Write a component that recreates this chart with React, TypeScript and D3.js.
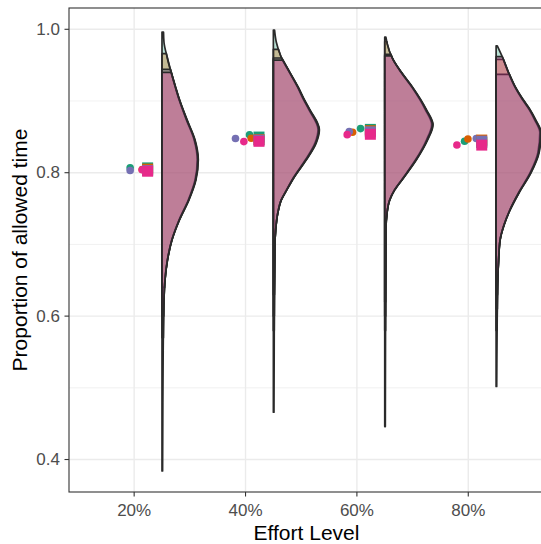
import React from "react";
import * as d3 from "d3";

// ---------- data ----------
const efforts = ["20%", "40%", "60%", "80%"];
const groupColors = ["#1B9E77", "#D95F02", "#7570B3", "#E7298A"];

// half-violin density profiles: [value, density]
const profile20: [number, number][] = [
  [0.997, 1.5], [0.982, 2], [0.961, 5.3], [0.94, 9.3], [0.919, 13.7], [0.902, 17.5],
  [0.874, 25], [0.846, 33], [0.818, 36.3], [0.79, 34], [0.762, 27], [0.734, 17.5],
  [0.706, 10], [0.678, 5.5], [0.65, 3], [0.622, 2], [0.552, 1.2], [0.455, 0.8], [0.384, 0.6],
];
const profile40: [number, number][] = [
  [0.999, 1.2], [0.982, 3], [0.961, 8], [0.94, 16.5], [0.919, 25], [0.902, 31], [0.888, 36.5],
  [0.86, 46], [0.842, 43], [0.818, 33], [0.794, 21], [0.776, 13.5], [0.762, 8],
  [0.744, 4.5], [0.72, 2.3], [0.697, 1.5], [0.622, 1], [0.539, 0.8], [0.466, 0.6],
];
const profile60: [number, number][] = [
  [0.989, 1.2], [0.979, 2.7], [0.961, 7.3], [0.94, 16.7], [0.919, 28], [0.888, 41.7],
  [0.867, 48.3], [0.846, 43], [0.818, 31.7], [0.794, 19.5], [0.776, 10], [0.762, 5],
  [0.744, 2.3], [0.72, 1.2], [0.622, 0.9], [0.446, 0.6],
];
const profile80: [number, number][] = [
  [0.977, 1.2], [0.961, 6.5], [0.94, 12.5], [0.919, 19.5], [0.902, 27], [0.888, 34],
  [0.874, 39.5], [0.856, 45], [0.828, 43], [0.8, 35], [0.772, 23], [0.748, 14], [0.727, 8],
  [0.706, 4], [0.678, 2.5], [0.643, 1.5], [0.58, 1], [0.502, 0.6],
];
const profiles = [profile20, profile40, profile60, profile80];

// per effort, per group (teal, orange, purple, pink)
const groupMax = [
  [0.996, 0.966, 0.944, 0.94],
  [0.999, 0.972, 0.96, 0.957],
  [0.983, 0.989, 0.965, 0.963],
  [0.977, 0.958, 0.937, 0.962],
];
const groupMin = [
  [0.6, 0.64, 0.57, 0.384],
  [0.466, 0.6, 0.63, 0.58],
  [0.58, 0.446, 0.62, 0.6],
  [0.61, 0.58, 0.502, 0.63],
];
const groupWidth = [0.99, 0.97, 1.0, 0.985];

const circleValues = [
  [0.807, 0.8045, 0.803, 0.8042],
  [0.853, 0.848, 0.8476, 0.8434],
  [0.8615, 0.8564, 0.8573, 0.8531],
  [0.8438, 0.8471, 0.8476, 0.8387],
];
const circleJitter = [
  [-0.036, 0.072, -0.036, 0.072],
  [0.036, 0.051, -0.09, -0.015],
  [0.033, -0.039, -0.069, -0.087],
  [-0.033, -0.003, 0.072, -0.102],
];
const squareValues = [
  [0.8067, 0.8049, 0.803, 0.8021],
  [0.8497, 0.8462, 0.8455, 0.8438],
  [0.8604, 0.8585, 0.857, 0.8536],
  [0.842, 0.8455, 0.844, 0.8385],
];

const yMajor = [0.4, 0.6, 0.8, 1.0];
const yMinor = [0.5, 0.7, 0.9];

// ---------- layout ----------
const W = 541, H = 544;
const PL = 69, PR = 544, PT = 8, PB = 492;
const FONT = "'Liberation Sans', Arial, Helvetica, sans-serif";

const x = d3.scaleLinear().domain([0.415, 4.68]).range([PL, PR]);
const y = d3.scaleLinear().domain([0.3547, 1.0297]).range([PB, PT]);
const step = x(1) - x(0);
const widthScale = d3.scaleLinear().domain([0, 100]).range([0, 0.8983 * step]);

function interp(profile: [number, number][], v: number) {
  for (let i = 0; i < profile.length - 1; i++) {
    const [v0, w0] = profile[i];
    const [v1, w1] = profile[i + 1];
    if (v <= v0 && v >= v1) {
      const t = (v0 - v) / (v0 - v1);
      return w0 + t * (w1 - w0);
    }
  }
  return profile[profile.length - 1][1];
}

function violinPath(ei: number, gi: number) {
  const prof = profiles[ei];
  const mx = groupMax[ei][gi], mn = groupMin[ei][gi];
  const pts: [number, number][] = [[mx, interp(prof, mx)]];
  prof.forEach((p) => { if (p[0] < mx && p[0] > mn) pts.push(p); });
  pts.push([mn, interp(prof, mn)]);
  const x0 = x(ei + 1 + 0.25);
  const area = d3.area<[number, number]>()
    .y((d) => y(d[0]))
    .x0(x0)
    .x1((d) => x0 + widthScale(d[1]) * groupWidth[gi])
    .curve(d3.curveMonotoneY);
  return area(pts) || "";
}

export default function App() {
  return (
    <svg width={W} height={H} style={{ position: "fixed", left: 0, top: 0, background: "#fff" }}
      fontFamily={FONT}>
      <defs>
        <clipPath id="panel"><rect x={PL} y={PT} width={PR - PL} height={PB - PT} /></clipPath>
      </defs>
      <rect x={0} y={0} width={W} height={H} fill="#fff" />
      <g clipPath="url(#panel)">
        {yMinor.map((v) => (
          <line key={"mn" + v} x1={PL} x2={PR} y1={y(v)} y2={y(v)} stroke="#EBEBEB" strokeWidth={0.7} />
        ))}
        {yMajor.map((v) => (
          <line key={"mj" + v} x1={PL} x2={PR} y1={y(v)} y2={y(v)} stroke="#EBEBEB" strokeWidth={1.4} />
        ))}
        {efforts.map((e, i) => (
          <line key={"vx" + e} x1={x(i + 1)} x2={x(i + 1)} y1={PT} y2={PB} stroke="#EBEBEB" strokeWidth={1.4} />
        ))}
        {efforts.map((e, ei) =>
          groupColors.map((c, gi) => (
            <path key={"v" + ei + gi} d={violinPath(ei, gi)} fill={c} fillOpacity={0.3}
              stroke="#2a2a2a" strokeWidth={1.7} strokeLinejoin="round" />
          ))
        )}
        {efforts.map((e, ei) =>
          groupColors.map((c, gi) => (
            <circle key={"c" + ei + gi} cx={x(ei + 1 + circleJitter[ei][gi])} cy={y(circleValues[ei][gi])}
              r={3.8} fill={c} />
          ))
        )}
        {efforts.map((e, ei) =>
          groupColors.map((c, gi) => (
            <rect key={"s" + ei + gi} x={x(ei + 1 + 0.121) - 5.5} y={y(squareValues[ei][gi]) - 5.5}
              width={11} height={11} fill={c} />
          ))
        )}
      </g>
      <rect x={PL} y={PT} width={PR - PL} height={PB - PT} fill="none" stroke="#333333" strokeWidth={1.1} />
      {/* y axis */}
      {yMajor.map((v) => (
        <g key={"yt" + v}>
          <line x1={PL - 4.5} x2={PL} y1={y(v)} y2={y(v)} stroke="#333333" strokeWidth={1.1} />
          <text x={PL - 9} y={y(v)} textAnchor="end" dominantBaseline="central" fontSize={17} fill="#4D4D4D">
            {d3.format(".1f")(v)}
          </text>
        </g>
      ))}
      {/* x axis */}
      {efforts.map((e, i) => (
        <g key={"xt" + e}>
          <line x1={x(i + 1)} x2={x(i + 1)} y1={PB} y2={PB + 4.5} stroke="#333333" strokeWidth={1.1} />
          <text x={x(i + 1)} y={516} textAnchor="middle" fontSize={17} fill="#4D4D4D">{e}</text>
        </g>
      ))}
      <text x={(PL + PR) / 2} y={540} textAnchor="middle" fontSize={21} fill="#000">Effort Level</text>
      <text transform={`translate(19,${(PT + PB) / 2}) rotate(-90)`} textAnchor="middle" dominantBaseline="central"
        fontSize={21} fill="#000">Proportion of allowed time</text>
    </svg>
  );
}
